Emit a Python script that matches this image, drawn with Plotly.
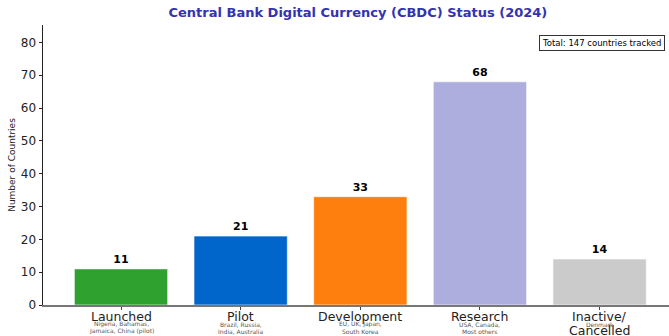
import plotly.graph_objects as go

categories = ["Launched", "Pilot", "Development", "Research", "Inactive/Cancelled"]
cat_labels = [["Launched"], ["Pilot"], ["Development"], ["Research"], ["Inactive/", "Cancelled"]]
sublabels = [["Nigeria, Bahamas,", "Jamaica, China (pilot)"], ["Brazil, Russia,", "India, Australia"],
             ["EU, UK, Japan,", "South Korea"], ["USA, Canada,", "Most others"], ["Denmark"]]
counts = [11, 21, 33, 68, 14]
colors = ["#2ea12e", "#0066cc", "#ff7f0e", "#adadde", "#cbcbcb"]
total_text = "Total: 147 countries tracked"
title_text = "Central Bank Digital Currency (CBDC) Status (2024)"

FONT = "DejaVu Sans"
PLOT_H = 280.0

def py(px_below_axis):
    return -px_below_axis / PLOT_H

fig = go.Figure()
fig.add_trace(go.Bar(
    x=list(range(len(categories))), y=counts, width=0.78,
    marker=dict(color=colors, line=dict(color="rgba(255,255,255,0.6)", width=1)),
    text=[f"<b>{c}</b>" for c in counts], textposition="outside",
    textfont=dict(family=FONT, size=11, color="black"),
    cliponaxis=False, hoverinfo="skip",
))

for i, (labs, subs) in enumerate(zip(cat_labels, sublabels)):
    for k, lab in enumerate(labs):
        fig.add_annotation(x=i, xref="x", y=py(11.5 + 13.5 * k), yref="paper", yanchor="middle",
                           text=lab, showarrow=False,
                           font=dict(family=FONT, size=12.5, color="#222"))
    for k, sub in enumerate(subs):
        fig.add_annotation(x=i, xref="x", y=py(19 + 7 * k), yref="paper", yanchor="middle",
                           text=sub, showarrow=False,
                           font=dict(family=FONT, size=6, color="#555"))

fig.add_annotation(x=0.993, xref="paper", y=0.934, yref="paper",
                   xanchor="right", yanchor="middle", text=total_text, showarrow=False,
                   font=dict(family=FONT, size=8.5, color="black"),
                   bordercolor="#333", borderwidth=1, borderpad=2, bgcolor="white")

fig.update_layout(
    width=669, height=336,
    margin=dict(l=43, r=0, t=25, b=31),
    paper_bgcolor="white", plot_bgcolor="white",
    showlegend=False,
    font=dict(family=FONT, color="black"),
    title=dict(text=f"<b>{title_text}</b>", x=0.535, xanchor="center", y=0.962, yanchor="middle",
               font=dict(family=FONT, size=13, color="#3333b0")),
    xaxis=dict(range=[-0.652, 4.58], tickvals=list(range(len(categories))),
               showticklabels=False, ticks="outside", ticklen=3.5, tickcolor="#444",
               showline=True, linecolor="#777", linewidth=1.5, showgrid=False, zeroline=False),
    yaxis=dict(range=[0, 85.3], tickvals=[0, 10, 20, 30, 40, 50, 60, 70, 80],
               ticks="outside", ticklen=3.5, tickcolor="#222",
               tickfont=dict(family=FONT, size=12, color="#222"),
               showline=True, linecolor="#222", linewidth=1, showgrid=False, zeroline=False,
               title=dict(text="Number of Countries", font=dict(family=FONT, size=9, color="#222"),
                          standoff=3)),
)

fig.write_html("out.html")
